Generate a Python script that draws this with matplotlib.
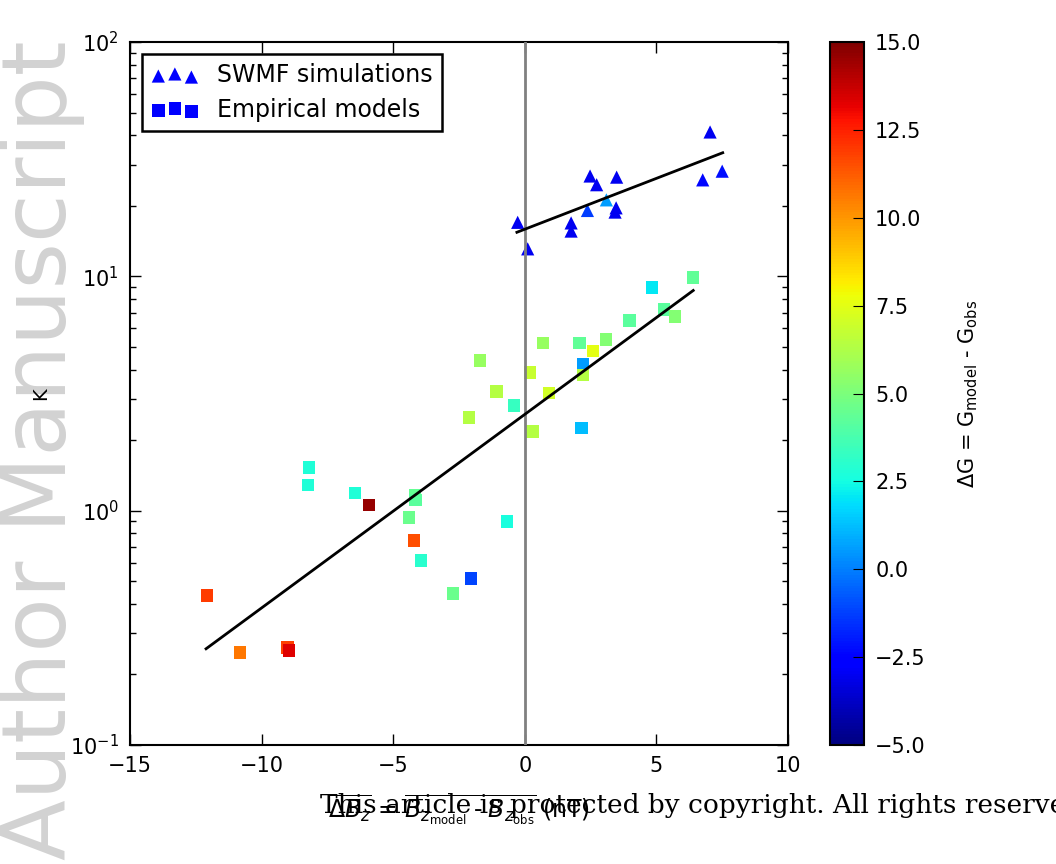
import numpy as np
import matplotlib.pyplot as plt
from matplotlib.ticker import FuncFormatter

# SWMF simulations (triangles)
swmf_dbz = [-0.27, 0.11, 1.76, 1.76, 2.38, 2.48, 2.73, 3.10, 3.49, 3.47, 3.43, 7.04, 6.76, 7.50]
swmf_k = [17.0, 13.1, 16.9, 15.6, 19.1, 26.8, 24.6, 21.2, 26.5, 19.6, 18.8, 41.3, 25.8, 28.1]
swmf_dg = [-3.0, -3.0, -3.0, -3.0, -1.3, -3.0, -3.0, 0.6, -3.0, -3.0, -3.0, -3.0, -2.4, -2.2]

# Empirical models (squares)
emp_dbz = [-12.07, -10.82, -9.01, -8.96, -8.20, -8.23, -6.46, -5.92, -4.17, -4.15,
           -4.40, -4.21, -3.95, -2.04, -2.73, -0.68, -1.70, -1.07, -0.41, -2.12,
           0.20, 0.30, 0.69, 0.92, 2.08, 2.59, 2.21, 2.21, 2.16, 3.09,
           3.98, 4.83, 5.28, 5.71, 6.39]
emp_k = [0.435, 0.248, 0.261, 0.253, 1.53, 1.29, 1.19, 1.06, 1.16, 1.11,
         0.936, 0.746, 0.614, 0.514, 0.444, 0.90, 4.38, 3.23, 2.81, 2.50,
         3.89, 2.18, 5.18, 3.17, 5.18, 4.79, 4.21, 3.79, 2.25, 5.37,
         6.47, 8.95, 7.21, 6.73, 9.87]
emp_dg = [11.9, 10.7, 11.8, 13.3, 2.8, 2.8, 2.8, 14.6, 4.4, 4.2,
          4.6, 11.5, 3.0, -1.1, 4.6, 2.6, 5.7, 6.4, 3.3, 6.4,
          6.8, 6.4, 5.7, 7.1, 4.3, 7.5, 0.6, 6.4, 1.2, 5.2,
          4.2, 2.1, 4.2, 5.2, 4.3]

# fit lines in log10(K) = a*x + b
emp_fit = (0.0826, 0.411)
emp_fit_x = [-12.11, 6.40]
swmf_fit = (0.0434, 1.201)
swmf_fit_x = [-0.30, 7.52]

cbar_ticks = [-5.0, -2.5, 0.0, 2.5, 5.0, 7.5, 10.0, 12.5, 15.0]

fig = plt.figure(figsize=(10.56, 8.64), dpi=100)
ax = fig.add_axes([0.1231, 0.1377, 0.6231, 0.8137])
cax = fig.add_axes([0.786, 0.1377, 0.0322, 0.8137])

ax.axvline(0, color='gray', lw=2, zorder=3)

sc = ax.scatter(emp_dbz, emp_k, c=emp_dg, cmap='jet', vmin=-5, vmax=15,
                marker='s', s=80, edgecolors='none', zorder=2)
ax.scatter(swmf_dbz, swmf_k, c=swmf_dg, cmap='jet', vmin=-5, vmax=15,
           marker='^', s=90, edgecolors='none', zorder=2)

for fit, xr in [(emp_fit, emp_fit_x), (swmf_fit, swmf_fit_x)]:
    xs = np.array(xr)
    ax.plot(xs, 10 ** (fit[0] * xs + fit[1]), color='black', lw=2, zorder=4)

ax.set_yscale('log')
ax.set_xlim(-15, 10)
ax.set_ylim(0.1, 100)
ax.set_xticks([-15, -10, -5, 0, 5, 10])
ax.tick_params(which='both', direction='in', top=True, right=True, labelsize=15)
ax.tick_params(which='major', length=8, width=1, pad=8)
ax.tick_params(which='minor', length=4, width=1)
for sp in ax.spines.values():
    sp.set_linewidth(1.5)

ax.set_ylabel('K', fontsize=14, labelpad=14)
ax.set_xlabel(r'$\overline{\Delta B_z}$ = $\overline{B_{z_{\rm model}}\;\text{-}\;B_{z_{\rm obs}}}$ (nT)',
              fontsize=17, labelpad=12)

h1 = ax.scatter([], [], marker='^', color='blue', s=90, edgecolors='none')
h2 = ax.scatter([], [], marker='s', color='blue', s=80, edgecolors='none')
leg = ax.legend([h1, h2], ['SWMF simulations', 'Empirical models'], loc='upper left',
                scatterpoints=3, scatteryoffsets=[0.375, 0.5, 0.3125],
                fontsize=17, fancybox=False, framealpha=1, edgecolor='black',
                borderpad=0.4, labelspacing=0.45, handletextpad=0.8,
                borderaxespad=0.5)
leg.get_frame().set_linewidth(1.8)

cb = fig.colorbar(sc, cax=cax, ticks=cbar_ticks,
                  format=FuncFormatter(lambda v, p: f'{v:.1f}'.replace('-', '\u2212')))
cb.ax.tick_params(direction='in', length=8, labelsize=15, pad=8)
cb.outline.set_linewidth(1.5)
cb.set_label(r'$\Delta$G = G$_{\rm model}$ - G$_{\rm obs}$', fontsize=15, labelpad=22)

# overlays from the manuscript page
fig.text(66 / 1056, 4 / 864, 'Author Manuscript', rotation=90, rotation_mode='anchor',
         ha='left', va='baseline', fontsize=64, color='#d2d2d2', family='DejaVu Sans',
         zorder=-1)
fig.text(320 / 1056, 0.068, 'This article is protected by copyright. All rights reserved',
         ha='left', va='center', fontsize=19, color='black', family='DejaVu Serif')

fig.savefig('out.png', dpi=100)
